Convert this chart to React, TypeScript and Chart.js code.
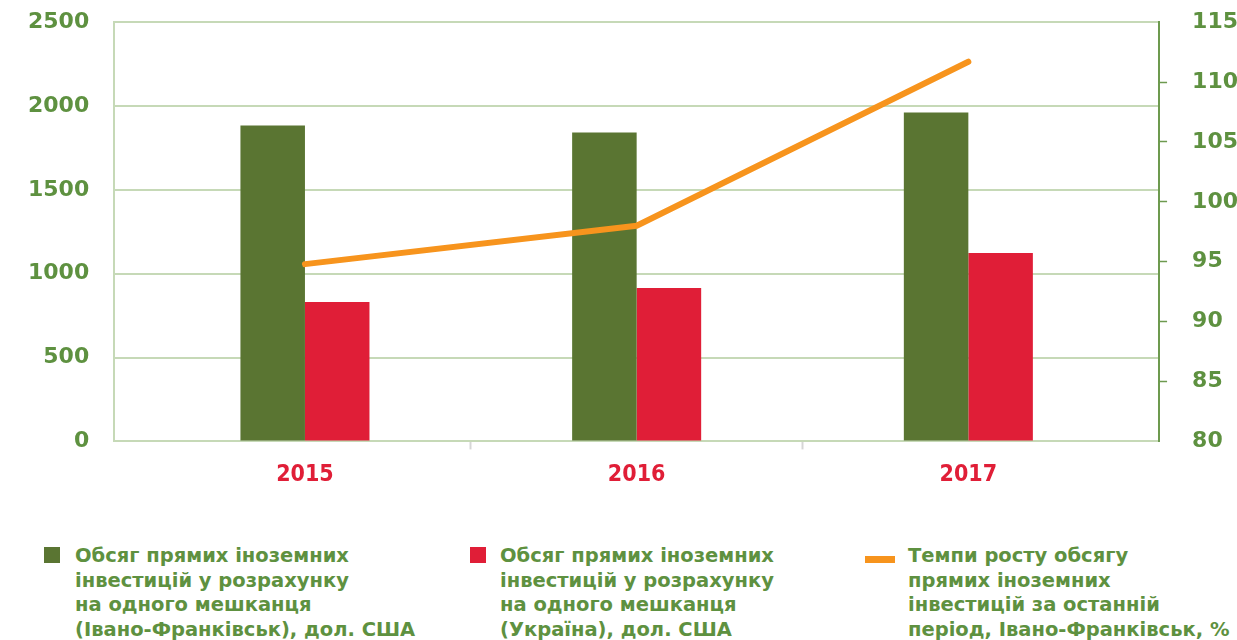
import React, { useEffect, useRef } from "react";
import { Chart, registerables } from "chart.js";

Chart.register(...registerables);

const categories = ["2015", "2016", "2017"];
const ifInvest = [1884, 1842, 1962];
const uaInvest = [831, 915, 1124];
const growthRate = [94.8, 98.0, 111.7];
const leftTicks = [0, 500, 1000, 1500, 2000, 2500];
const rightTicks = [80, 85, 90, 95, 100, 105, 110, 115];

const legendItems = [
  {
    kind: "box",
    color: "#5a7532",
    lines: ["Обсяг прямих іноземних", "інвестицій у розрахунку", "на одного мешканця", "(Івано-Франківськ), дол. США"],
  },
  {
    kind: "box",
    color: "#e01e37",
    lines: ["Обсяг прямих іноземних", "інвестицій у розрахунку", "на одного мешканця", "(Україна), дол. США"],
  },
  {
    kind: "line",
    color: "#f7941d",
    lines: ["Темпи росту обсягу", "прямих іноземних", "інвестицій за останній", "період, Івано-Франківськ, %"],
  },
];

const GREEN_TEXT = "#5e9140";
const GRID = "#c6d9b7";
const FONT = "'DejaVu Sans', sans-serif";
// extra blank margin (in category units) at each end of the category axis
const X_EDGE = 0.575;

export default function App() {
  const ref = useRef<HTMLCanvasElement | null>(null);

  useEffect(() => {
    if (!ref.current) return;
    const chart = new Chart(ref.current, {
      data: {
        labels: categories,
        datasets: [
          {
            type: "line",
            label: "Темпи росту",
            data: growthRate,
            yAxisID: "y1",
            borderColor: "#f7941d",
            borderWidth: 6,
            borderCapStyle: "round",
            borderJoinStyle: "round",
            pointRadius: 0,
            tension: 0,
            order: 0,
          } as any,
          {
            type: "bar",
            label: "Івано-Франківськ",
            data: ifInvest,
            yAxisID: "y",
            backgroundColor: "#5a7532",
            categoryPercentage: 0.389,
            barPercentage: 1,
            order: 1,
          },
          {
            type: "bar",
            label: "Україна",
            data: uaInvest,
            yAxisID: "y",
            backgroundColor: "#e01e37",
            categoryPercentage: 0.389,
            barPercentage: 1,
            order: 1,
          },
        ],
      },
      options: {
        animation: false,
        responsive: false,
        maintainAspectRatio: false,
        layout: { padding: { left: 3, right: -26, top: 0, bottom: 0 } },
        plugins: { legend: { display: false }, tooltip: { enabled: false } },
        scales: {
          x: {
            offset: true,
            afterUpdate: (s: any) => {
              s._startValue = s.min - X_EDGE;
              s._valueRange = s.max - s.min + 2 * X_EDGE;
            },
            grid: {
              offset: true,
              drawOnChartArea: false,
              drawTicks: true,
              tickLength: 8,
              tickWidth: 2,
              tickColor: (ctx: any) => (ctx.index === 1 || ctx.index === 2 ? "#d6d6d6" : "transparent"),
            },
            border: { display: true, color: GRID, width: 2 },
            ticks: {
              color: "#e01e37",
              padding: 12,
              font: { family: "'DejaVu Sans Condensed', " + FONT, weight: "bold", size: 23 },
            },
          },
          y: {
            position: "left",
            min: 0,
            max: 2500,
            afterBuildTicks: (s: any) => {
              s.ticks = leftTicks.map((v) => ({ value: v }));
            },
            grid: { color: GRID, lineWidth: 2, drawTicks: false },
            border: { display: true, color: GRID, width: 2 },
            ticks: {
              color: GREEN_TEXT,
              padding: 25,
              callback: (v: any) => String(v),
              font: { family: FONT, weight: "bold", size: 22 },
            },
          },
          y1: {
            position: "right",
            min: 80,
            max: 115,
            afterBuildTicks: (s: any) => {
              s.ticks = rightTicks.map((v) => ({ value: v }));
            },
            grid: {
              drawOnChartArea: false,
              drawTicks: true,
              tickLength: 8,
              tickWidth: 1.5,
              tickColor: (ctx: any) =>
                ctx.tick && (ctx.tick.value === 115 || ctx.tick.value === 80) ? "transparent" : "#6d9a4f",
            },
            border: { display: true, color: "#6d9a4f", width: 2 },
            ticks: {
              color: GREEN_TEXT,
              padding: 25,
              callback: (v: any) => String(v),
              font: { family: FONT, weight: "bold", size: 22 },
            },
          },
        },
      },
    });
    return () => chart.destroy();
  }, []);

  return (
    <div style={{ position: "absolute", left: 0, top: 0, width: 1237, height: 640, background: "#fff", overflow: "hidden" }}>
      <canvas ref={ref} width={1237} height={517} style={{ position: "absolute", left: 0, top: -16, width: 1237, height: 517 }} />
      {legendItems.map((it, i) => {
        const lefts = [44, 470, 865];
        const textLefts = [75, 500, 908];
        return (
          <div key={i}>
            {it.kind === "box" ? (
              <div style={{ position: "absolute", left: lefts[i], top: 547, width: 16, height: 16, background: it.color }} />
            ) : (
              <div style={{ position: "absolute", left: lefts[i], top: 556, width: 30, height: 7, background: it.color }} />
            )}
            <div
              style={{
                position: "absolute",
                left: textLefts[i],
                top: 544,
                fontFamily: FONT,
                fontWeight: "bold",
                fontSize: 19.5,
                lineHeight: "24.5px",
                color: GREEN_TEXT,
                whiteSpace: "nowrap",
              }}
            >
              {it.lines.map((l, j) => (
                <div key={j}>{l}</div>
              ))}
            </div>
          </div>
        );
      })}
    </div>
  );
}
